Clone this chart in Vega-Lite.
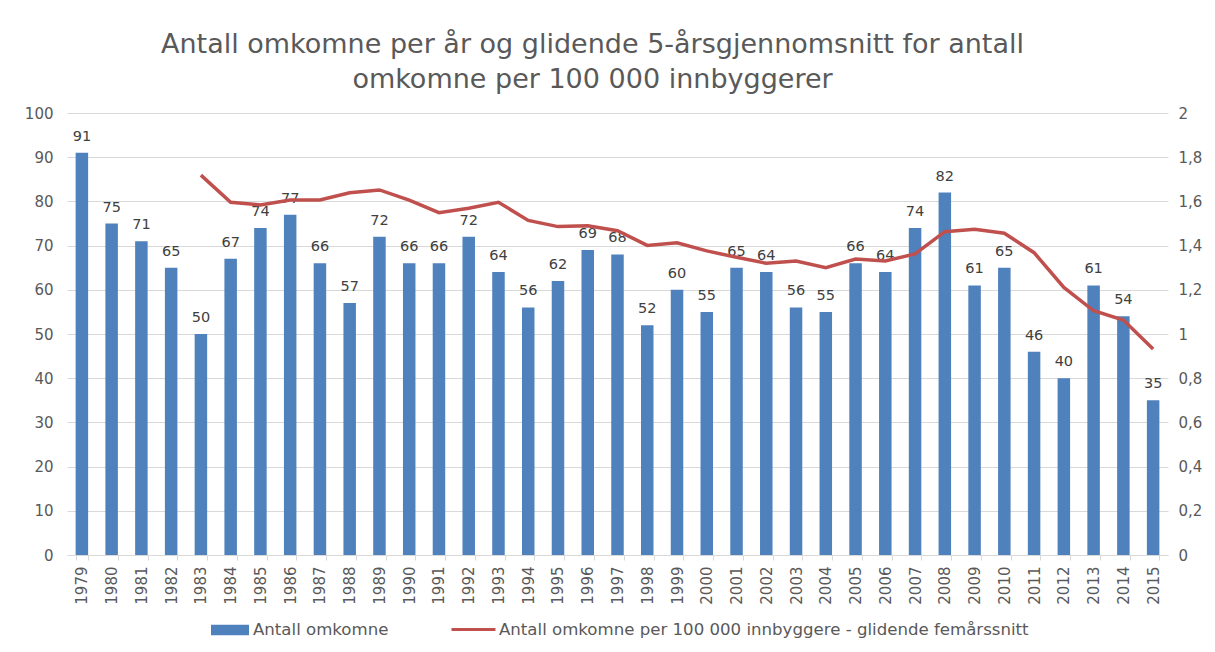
{
  "$schema": "https://vega.github.io/schema/vega-lite/v6.json",
  "autosize": {"type": "none"},
  "width": 1101,
  "height": 442,
  "padding": {"left": 67, "top": 113, "right": 47, "bottom": 97},
  "background": "white",
  "config": {
    "font": "DejaVu Sans",
    "view": {"stroke": null},
    "axis": {"labelColor": "#595959", "labelFontSize": 15, "titleColor": "#595959"}
  },
  "title": {
    "text": ["Antall omkomne per år og glidende 5-årsgjennomsnitt for antall", "omkomne per 100 000 innbyggerer"],
    "fontSize": 27,
    "fontWeight": "normal",
    "color": "#595959",
    "anchor": "middle",
    "dx": -25,
    "lineHeight": 35,
    "offset": 12
  },
  "data": {
    "values": [
      {"year": "1979", "antall": 91, "snitt": null},
      {"year": "1980", "antall": 75, "snitt": null},
      {"year": "1981", "antall": 71, "snitt": null},
      {"year": "1982", "antall": 65, "snitt": null},
      {"year": "1983", "antall": 50, "snitt": 1.719},
      {"year": "1984", "antall": 67, "snitt": 1.596},
      {"year": "1985", "antall": 74, "snitt": 1.584},
      {"year": "1986", "antall": 77, "snitt": 1.606},
      {"year": "1987", "antall": 66, "snitt": 1.606},
      {"year": "1988", "antall": 57, "snitt": 1.639},
      {"year": "1989", "antall": 72, "snitt": 1.652},
      {"year": "1990", "antall": 66, "snitt": 1.606},
      {"year": "1991", "antall": 66, "snitt": 1.549},
      {"year": "1992", "antall": 72, "snitt": 1.569},
      {"year": "1993", "antall": 64, "snitt": 1.596},
      {"year": "1994", "antall": 56, "snitt": 1.514},
      {"year": "1995", "antall": 62, "snitt": 1.486},
      {"year": "1996", "antall": 69, "snitt": 1.490},
      {"year": "1997", "antall": 68, "snitt": 1.467},
      {"year": "1998", "antall": 52, "snitt": 1.401},
      {"year": "1999", "antall": 60, "snitt": 1.413},
      {"year": "2000", "antall": 55, "snitt": 1.376},
      {"year": "2001", "antall": 65, "snitt": 1.347},
      {"year": "2002", "antall": 64, "snitt": 1.320},
      {"year": "2003", "antall": 56, "snitt": 1.330},
      {"year": "2004", "antall": 55, "snitt": 1.300},
      {"year": "2005", "antall": 66, "snitt": 1.339},
      {"year": "2006", "antall": 64, "snitt": 1.330},
      {"year": "2007", "antall": 74, "snitt": 1.362},
      {"year": "2008", "antall": 82, "snitt": 1.463},
      {"year": "2009", "antall": 61, "snitt": 1.474},
      {"year": "2010", "antall": 65, "snitt": 1.456},
      {"year": "2011", "antall": 46, "snitt": 1.368},
      {"year": "2012", "antall": 40, "snitt": 1.211},
      {"year": "2013", "antall": 61, "snitt": 1.105},
      {"year": "2014", "antall": 54, "snitt": 1.063},
      {"year": "2015", "antall": 35, "snitt": 0.932}
    ]
  },
  "encoding": {
    "x": {
      "field": "year",
      "type": "ordinal",
      "title": null,
      "scale": {"paddingInner": 0.58, "paddingOuter": 0.29},
      "axis": {"labelAngle": -90, "labelPadding": 6, "domainColor": "#d9d9d9", "tickColor": "#d9d9d9", "tickBand": "extent", "tickSize": 5, "labelBaseline": "middle", "labelFontSize": 15}
    }
  },
  "layer": [
    {
      "layer": [
        {
          "mark": {"type": "bar", "color": "#4f81bd"},
          "encoding": {
            "y": {
              "field": "antall",
              "type": "quantitative",
              "title": null,
              "scale": {"domain": [0, 100]},
              "axis": {"values": [0,10,20,30,40,50,60,70,80,90,100], "domain": false, "ticks": false, "labelPadding": 14, "gridColor": "#d9d9d9", "grid": true}
            },
            "fill": {
              "datum": "Antall omkomne",
              "type": "nominal",
              "scale": {"range": ["#4f81bd"]},
              "legend": {
                "orient": "none", "legendX": 144, "legendY": 498, "title": null,
                "labelFontSize": 16.6, "labelColor": "#595959",
                "symbolType": "M-1,-0.28L1,-0.28L1,0.28L-1,0.28Z", "symbolSize": 1444, "symbolStrokeWidth": 0,
                "labelOffset": 4
              }
            }
          }
        },
        {
          "mark": {"type": "text", "dy": -16, "fontSize": 14.5, "color": "#404040"},
          "encoding": {
            "y": {"field": "antall", "type": "quantitative", "scale": {"domain": [0, 100]}},
            "text": {"field": "antall", "type": "quantitative"}
          }
        }
      ]
    },
    {
      "transform": [{"filter": "datum.snitt != null"}],
      "mark": {"type": "line", "color": "#c0504d", "strokeWidth": 3.5},
      "encoding": {
        "y": {
          "field": "snitt",
          "type": "quantitative",
          "title": null,
          "scale": {"domain": [0, 2]},
          "axis": {"orient": "right", "values": [0,0.2,0.4,0.6,0.8,1,1.2,1.4,1.6,1.8,2], "labelExpr": "replace(format(datum.value, '~g'), '.', ',')", "domain": false, "ticks": false, "grid": false, "labelPadding": 10}
        },
        "stroke": {
          "datum": "Antall omkomne per 100 000 innbyggere - glidende femårssnitt",
          "type": "nominal",
          "scale": {"range": ["#c0504d"]},
          "legend": {
            "orient": "none", "legendX": 383, "legendY": 493, "title": null,
            "labelFontSize": 16.6, "labelColor": "#595959",
            "symbolType": "stroke", "symbolSize": 1936, "symbolStrokeWidth": 3,
            "labelOffset": 2, "labelLimit": 700
          }
        }
      }
    }
  ],
  "resolve": {"scale": {"y": "independent", "fill": "independent", "stroke": "independent"}}
}
